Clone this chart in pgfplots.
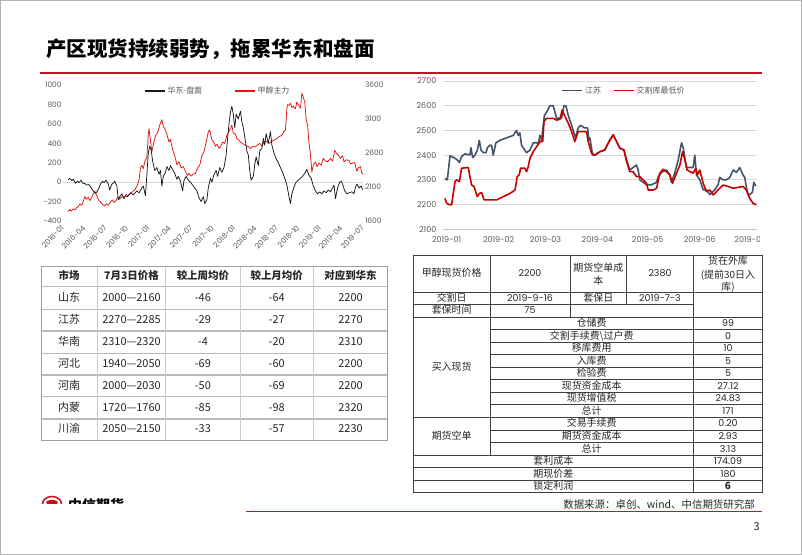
\documentclass[border=0pt]{standalone}
\usepackage{fontspec}
\usepackage{pgfplots}
\pgfplotsset{compat=1.18}
\setmainfont{Noto Sans CJK SC}
\newfontfamily\numf{Poppins}
\definecolor{tickgray}{RGB}{89,89,89}
\definecolor{gridgray}{RGB}{217,217,217}
\definecolor{titlered}{RGB}{200,16,30}
\definecolor{lred}{RGB}{224,20,20}
\definecolor{rred}{RGB}{200,0,0}
\definecolor{slate}{RGB}{68,84,106}
\definecolor{txt}{RGB}{38,38,38}
\pgfplotsset{/pgf/number format/assume math mode=true,/pgf/number format/1000 sep={}}
\begin{document}
\begin{tikzpicture}[x=1bp,y=1bp]
\path[use as bounding box] (0,0) rectangle (802,555);
\fill[white] (0,0) rectangle (802,555);
\draw[gray!60, line width=1bp] (0.5,0.5) rectangle (801.5,554.5);
% title
\node[anchor=west, inner sep=0pt, font=\bfseries\fontsize{20.6}{24}\selectfont] at (46,506) {产区现货持续弱势，拖累华东和盘面};
\draw[titlered, line width=2.5bp] (40,482) -- (762,482);

% ---------- left chart: red series on right scale ----------
\begin{axis}[
  at={(63.3bp,334bp)}, anchor=south west, scale only axis, width=300bp, height=136bp,
  xmin=0, xmax=42, ymin=1600, ymax=3600,
  hide x axis, axis y line*=right, y axis line style={draw=none},
  ytick={1600,2100,2600,3100,3600}, major tick length=0pt,
  yticklabel style={font=\numf\fontsize{7.5}{9}\selectfont, text=tickgray, inner sep=1.5bp},
  extra y ticks={2171.43}, extra y tick labels={},
  extra y tick style={grid=major, major grid style={draw=gridgray, line width=0.9bp}},
  legend columns=2,
  legend style={draw=none, fill=none, font=\fontsize{8}{9}\selectfont, text=tickgray,
    at={(0.515,0.956)}, anchor=center, inner sep=0pt,
    /tikz/every even column/.append style={column sep=30bp}},
  legend image code/.code={\draw[#1, line width=1.4bp] (0bp,0bp) -- (20bp,0bp);},
]
\addlegendimage{black!90}
\addlegendentry{华东-盘面}
\addplot[lred, line width=0.75bp, line join=round] coordinates {
(0.7,1740) (0.9,1770) (1.1,1745) (1.4,1780) (1.6,1760) (1.9,1800) (2.1,1810) (2.3,1850) (2.6,1830) (2.8,1890)
(3.0,1960) (3.2,1920) (3.5,1950) (3.7,1900) (3.9,1930) (4.2,2000) (4.4,2040) (4.6,1990) (4.8,1940) (5.0,1900)
(5.3,1870) (5.5,1840) (5.8,1820) (6.0,1850) (6.3,1830) (6.6,1880) (6.9,1910) (7.1,1870) (7.4,1900) (7.6,1950)
(7.9,1920) (8.2,1960) (8.5,1940) (8.8,1990) (9.1,1970) (9.4,2010) (9.7,2030) (10.0,2060) (10.3,2110) (10.6,2200)
(10.8,2380) (11.0,2420) (11.2,2370) (11.4,2470) (11.7,2540) (11.9,2870) (12.0,2960) (12.2,2780) (12.4,2620) (12.7,2770)
(12.9,2850) (13.2,2900) (13.5,3010) (13.8,3090) (14.0,2990) (14.2,2960) (14.5,2880) (14.8,2760) (15.0,2800) (15.3,2650)
(15.6,2560) (15.9,2430) (16.2,2470) (16.5,2380) (16.8,2400) (17.1,2330) (17.4,2270) (17.6,2300) (17.9,2260) (18.2,2290)
(18.5,2300) (18.8,2380) (19.1,2420) (19.4,2560) (19.7,2620) (20.0,2760) (20.3,2910) (20.5,2940) (20.8,2790) (21.0,2770)
(21.3,2700) (21.5,2730) (21.8,2670) (22.0,2690) (22.3,2760) (22.6,2740) (22.9,2860) (23.1,2900) (23.4,2960) (23.6,3010)
(23.8,2890) (24.1,2880) (24.3,2810) (24.6,2790) (24.8,2760) (25.1,2740) (25.4,2720) (25.7,2700) (26.0,2690) (26.2,2660)
(26.5,2700) (26.9,2690) (27.2,2720) (27.5,2740) (27.8,2700) (28.1,2760) (28.5,2770) (28.8,2740) (29.2,2770) (29.5,2790)
(29.9,2810) (30.2,2840) (30.6,2860) (30.9,2920) (31.1,2940) (31.3,3250) (31.4,3310) (31.6,3300) (31.8,3330) (32.0,3270)
(32.2,3290) (32.5,3250) (32.7,3350) (32.9,3310) (33.2,3260) (33.4,3480) (33.6,3420) (33.8,3350) (34.0,3100) (34.2,3000)
(34.4,2750) (34.6,2580) (34.8,2320) (35.0,2420) (35.3,2470) (35.5,2400) (35.8,2450) (36.1,2420) (36.4,2520) (36.7,2480)
(37.0,2470) (37.4,2520) (37.7,2480) (38.0,2640) (38.2,2600) (38.5,2570) (38.8,2520) (39.1,2560) (39.3,2470) (39.6,2500)
(40.0,2490) (40.2,2440) (40.5,2450) (40.8,2460) (41.1,2330) (41.3,2380) (41.6,2400) (41.8,2300) (42.0,2290)
};
\addlegendentry{甲醇主力}
\end{axis}

% ---------- left chart: black series on left scale ----------
\begin{axis}[
  at={(63.3bp,334bp)}, anchor=south west, scale only axis, width=300bp, height=136bp,
  xmin=0, xmax=42, ymin=-400, ymax=1000,
  axis y line*=left, axis x line*=bottom, axis line style={draw=none},
  ytick={-400,-200,0,200,400,600,800,1000}, major tick length=0pt,
  yticklabel style={font=\numf\fontsize{7.5}{9}\selectfont, text=tickgray, inner sep=1.5bp},
  xtick={0,3,...,42},
  xticklabels={2016-01,2016-04,2016-07,2016-10,2017-01,2017-04,2017-07,2017-10,2018-01,2018-04,2018-07,2018-10,2019-01,2019-04,2019-07},
  xticklabel style={font=\numf\fontsize{7.5}{9}\selectfont, text=tickgray, rotate=45, anchor=east, inner sep=1bp},
  xticklabel shift=5bp,
]
\addplot[black!90, line width=0.75bp, line join=round] coordinates {
(0.7,22) (0.9,40) (1.2,15) (1.4,30) (1.7,-12) (2.0,10) (2.2,-5) (2.5,20) (2.7,-10) (3.0,-15)
(3.3,-30) (3.6,-25) (3.9,-60) (4.2,-90) (4.5,-115) (4.7,-100) (5.0,-60) (5.2,-20) (5.5,10) (5.7,-5)
(6.0,20) (6.3,-20) (6.5,-80) (6.8,-20) (7.0,-10) (7.2,10) (7.5,-40) (7.7,-180) (7.9,-150) (8.2,-120)
(8.5,-170) (8.7,-140) (9.0,-150) (9.4,-110) (9.8,-130) (10.3,-90) (10.6,-110) (11.0,-60) (11.2,-40) (11.5,-140)
(11.7,80) (11.9,300) (12.1,370) (12.3,330) (12.5,220) (12.8,120) (13.1,150) (13.4,80) (13.6,120) (13.8,-40)
(14.0,60) (14.3,100) (14.5,160) (14.8,120) (15.0,170) (15.3,130) (15.6,90) (15.9,30) (16.1,60) (16.4,10)
(16.7,-90) (16.9,20) (17.2,60) (17.5,20) (17.8,0) (18.1,-30) (18.4,-60) (18.7,-90) (19.0,-160) (19.3,-200)
(19.6,-150) (19.8,-220) (20.1,-180) (20.3,-60) (20.6,40) (20.8,0) (21.1,80) (21.4,120) (21.6,60) (21.9,150)
(22.2,100) (22.5,150) (22.8,280) (23.0,450) (23.2,600) (23.4,720) (23.6,780) (23.8,700) (24.0,560) (24.2,700)
(24.5,650) (24.8,730) (25.0,620) (25.2,560) (25.5,420) (25.7,320) (25.9,280) (26.1,120) (26.3,20) (26.6,60)
(26.8,180) (27.0,260) (27.3,170) (27.5,320) (27.8,350) (28.0,450) (28.2,380) (28.4,500) (28.7,400) (29.0,520)
(29.2,380) (29.5,300) (29.8,240) (30.1,200) (30.4,150) (30.7,100) (31.0,40) (31.3,-30) (31.6,-150) (31.8,-220)
(32.0,-120) (32.3,-50) (32.6,0) (32.9,20) (33.2,40) (33.5,60) (33.8,90) (34.1,130) (34.4,70) (34.7,40)
(35.0,-40) (35.3,-90) (35.6,-120) (35.9,-100) (36.2,-120) (36.5,-90) (36.8,-110) (37.1,-80) (37.4,-100) (37.7,-60)
(37.9,-30) (38.1,-170) (38.4,-60) (38.7,0) (38.9,10) (39.1,-20) (39.4,-90) (39.7,-120) (40.0,-110) (40.4,-100)
(40.7,-120) (40.9,-50) (41.1,-20) (41.4,-60) (41.7,-40) (41.9,-80)
};
\end{axis}

% ---------- right chart ----------
\begin{axis}[
  at={(443.3bp,325.7bp)}, anchor=south west, scale only axis, width=313.3bp, height=148.3bp,
  xmin=-2, xmax=185, ymin=2100, ymax=2700,
  axis y line*=left, y axis line style={draw=none},
  axis x line*=bottom, x axis line style={draw=gray!45, line width=0.9bp, -},
  ytick={2100,2200,...,2700}, ymajorgrids, major grid style={draw=gridgray, line width=0.9bp},
  major tick length=0pt,
  yticklabel style={font=\numf\fontsize{8}{9}\selectfont, text=tickgray, xshift=-3.5bp},
  xtick={0,31,59,90,120,151,181},
  xticklabels={2019-01,2019-02,2019-03,2019-04,2019-05,2019-06,2019-07},
  xticklabel style={font=\numf\fontsize{8}{9}\selectfont, text=tickgray, yshift=-4bp},
  legend columns=2,
  legend style={draw=none, fill=none, font=\fontsize{8}{9}\selectfont, text=tickgray,
    at={(0.577,0.935)}, anchor=center, inner sep=0pt,
    /tikz/every even column/.append style={column sep=10bp}},
  legend image code/.code={\draw[#1] (0bp,0bp) -- (20bp,0bp);},
]
\addplot[slate, line width=1.6bp, line join=round] coordinates {
(-1,2306) (0.4,2300) (2,2397) (4,2391) (6,2383) (7.6,2370) (8.9,2394) (10.9,2405) (13.9,2401) (14.5,2430)
(15.5,2390) (16.9,2400) (18.3,2420) (19.5,2460) (20.5,2420) (21.9,2410) (23.5,2410) (24.3,2430) (25.8,2440) (26.8,2440)
(27.8,2400) (29.4,2450) (31.8,2460) (35.8,2470) (39.8,2480) (41.7,2500) (42.7,2480) (43.7,2490) (44.7,2440) (46.7,2420)
(47.7,2410) (49.7,2420) (51.7,2450) (53.7,2450) (54.7,2445) (55.7,2480) (56.7,2460) (58.3,2560) (60.2,2580) (61.6,2600)
(63.6,2600) (65.6,2550) (68.6,2550) (70,2600) (71.2,2600) (72.6,2560) (75.1,2510) (76.9,2470) (78.5,2510) (79.9,2520)
(82.5,2510) (84.1,2510) (84.9,2460) (85.5,2470) (87.1,2400) (88.5,2400) (91.5,2414) (94.4,2421) (97.4,2461) (99.4,2482)
(101.4,2455) (103.4,2428) (105.8,2421) (107.4,2380) (109.3,2340) (111.3,2350) (113.3,2360) (114.3,2340) (115.3,2300) (117.3,2290)
(119.3,2280) (122.3,2280) (125.3,2290) (126.2,2310) (128.2,2330) (131.2,2340) (133.2,2320) (134.2,2290) (136.2,2330) (138.2,2380)
(140.2,2450) (141.2,2430) (143.1,2350) (145.1,2350) (147.1,2350) (148.1,2400) (149.1,2320) (151.1,2300) (153.1,2260) (155.1,2260)
(157.1,2240) (160,2260) (162,2280) (163,2310) (165,2300) (167,2300) (169,2310) (171,2340) (173,2330) (174.9,2350)
(176.9,2320) (177.9,2310) (178.9,2270) (179.9,2240) (180.9,2240) (182.5,2250) (183.3,2290) (184.5,2275)
};
\addlegendentry{江苏}
\addplot[rred, line width=1.6bp, line join=round] coordinates {
(-1,2225) (0,2205) (2,2199) (3,2200) (5,2293) (6,2300) (7.6,2293) (8.9,2347) (12.9,2350) (13.9,2313)
(14.9,2279) (16.3,2273) (18.3,2232) (19.5,2245) (20.9,2248) (22.3,2219) (27.8,2219) (29.8,2219) (33.8,2232) (37.8,2245)
(40.8,2259) (42.1,2313) (43.3,2320) (44.1,2347) (46.7,2347) (47.7,2333) (48.7,2354) (49.7,2387) (51.7,2414) (53.7,2434)
(55.7,2455) (57.3,2455) (58.1,2536) (59.6,2549) (63.6,2549) (65.6,2542) (67.6,2545) (69,2583) (70.6,2556) (72.6,2529)
(74.6,2495) (76.5,2455) (78.5,2495) (83.5,2495) (84.5,2455) (86.5,2407) (88.5,2400) (91.5,2414) (94.4,2421) (97.4,2461)
(99.4,2482) (101.4,2455) (103.4,2428) (105.8,2421) (107.4,2374) (109.3,2333) (111.3,2333) (113.3,2313) (115.3,2313) (117.3,2300)
(119.3,2286) (120.3,2259) (123.3,2259) (125.3,2266) (127.2,2327) (129.2,2343) (131.2,2333) (133.2,2320) (134.8,2286) (137.2,2327)
(139.2,2360) (140.8,2414) (142.2,2381) (143.5,2340) (147.1,2327) (148.7,2347) (149.7,2320) (151.1,2340) (153.1,2286) (155.1,2252)
(157.1,2259) (159.1,2239) (161,2252) (163,2266) (165,2279) (168,2273) (171,2266) (176.9,2273) (178.9,2259) (180.9,2225)
(182.9,2205) (184.9,2199)
};
\addlegendentry{交割库最低价}
\end{axis}
\fill[white] (760,300) rectangle (800.5,322);

% ---------- left table ----------
\draw[gray!55, line width=1.3bp] (41,268.3) -- (387.7,268.3) (41,245.7) -- (387.7,245.7) (41,224) -- (387.7,224)
  (41,201.7) -- (387.7,201.7) (41,180) -- (387.7,180) (41,158.3) -- (387.7,158.3) (41,136) -- (387.7,136);
\draw[gray!40, line width=1bp] (97.3,114.7) -- (97.3,289) (165.7,114.7) -- (165.7,289) (240,114.7) -- (240,289) (313.3,114.7) -- (313.3,289);
\draw[gray!75, line width=0.9bp] (41,114.7) rectangle (387.7,289);
\begin{scope}[every node/.style={inner sep=0pt, text=txt, text height=0.8em, text depth=0.15em, font=\fontsize{11}{13}\selectfont}]
\begin{scope}[every node/.append style={font=\bfseries\fontsize{10.5}{12}\selectfont}]
\node at (69.2,278.7) {市场};
\node at (131.5,278.7) {7月3日价格};
\node at (202.9,278.7) {较上周均价};
\node at (276.7,278.7) {较上月均价};
\node at (350.5,278.7) {对应到华东};
\end{scope}
\foreach \yy/\a/\b/\c/\d/\e in {257/山东/2000—2160/-46/-64/2200, 234.9/江苏/2270—2285/-29/-27/2270,
  212.9/华南/2310—2320/-4/-20/2310, 190.9/河北/1940—2050/-69/-60/2200, 169/河南/2000—2030/-50/-69/2200,
  147.2/内蒙/1720—1760/-85/-98/2320, 125.4/川渝/2050—2150/-33/-57/2230}{
  \node at (69.2,\yy) {\a};
  \node at (131.5,\yy) {\b};
  \node at (202.9,\yy) {\c};
  \node at (276.7,\yy) {\d};
  \node at (350.5,\yy) {\e};
}
\end{scope}

% ---------- right table ----------
\begin{scope}[line width=0.7bp, draw=black!75]
\draw (413.3,62.3) rectangle (762.7,300);
\draw (413.3,263) -- (762.7,263);
\draw (413.3,251) -- (693.3,251);
\draw (413.3,238) -- (762.7,238);
\foreach \yy in {225.45,212.9,200.35,187.8,175.25,162.7,150.15,125.05,112.5} {\draw (490,\yy) -- (762.7,\yy);}
\foreach \yy in {137.6,99.95,87.4,74.85} {\draw (413.3,\yy) -- (762.7,\yy);}
\draw (490,300) -- (490,99.95);
\draw (570,300) -- (570,238);
\draw (626.7,300) -- (626.7,251);
\draw (693.3,300) -- (693.3,62.3);
\end{scope}
\begin{scope}[every node/.style={inner sep=0pt, text=txt, text height=0.8em, text depth=0.15em, font=\fontsize{10}{12}\selectfont},
  num/.style={font=\numf\fontsize{9.5}{11}\selectfont}]
\node at (451.7,281.5) {甲醇现货价格};
\node[num] at (530,281.5) {2200};
\node at (598.3,286.7) {期货空单成};
\node at (598.3,273.3) {本};
\node[num] at (660,281.5) {2380};
\node at (728,293.3) {货在外库};
\node at (728,280) {(提前30日入};
\node at (728,267.7) {库)};
\node at (451.7,257) {交割日};
\node[num] at (530,257) {2019-9-16};
\node at (598.3,257) {套保日};
\node[num] at (660,257) {2019-7-3};
\node at (451.7,244.5) {套保时间};
\node[num] at (530,244.5) {75};
\node at (451.7,187.8) {买入现货};
\node at (451.7,118.8) {期货空单};
\foreach \yy/\l/\v in {231.7/仓储费/99, 219.2/{交割手续费\textbackslash{}过户费}/0, 206.6/移库费用/10, 194.1/入库费/5,
  181.5/检验费/5, 169.0/现货资金成本/27.12, 156.4/现货增值税/24.83, 143.9/总计/171, 131.3/交易手续费/0.20,
  118.8/期货资金成本/2.93, 106.2/总计/3.13}{
  \node at (591.7,\yy) {\l};
  \node[num] at (728,\yy) {\v};
}
\node at (553.3,93.7) {套利成本};
\node[num] at (728,93.7) {174.09};
\node at (553.3,81.1) {期现价差};
\node[num] at (728,81.1) {180};
\node at (553.3,68.6) {锁定利润};
\node[font=\bfseries\fontsize{10}{12}\selectfont] at (728,68.6) {6};
\end{scope}

% ---------- footer ----------
\node[anchor=east, inner sep=0pt, text=txt, font=\fontsize{10.5}{12}\selectfont] at (755,50) {数据来源：卓创、wind、中信期货研究部};
\draw[titlered, line width=1.2bp] (246,43.3) -- (762,43.3);
\node[inner sep=0pt, text=txt, font=\fontsize{11}{13}\selectfont] at (756.7,28.3) {3};
\begin{scope}
\clip (38,51.5) rectangle (130,62);
\draw[titlered, line width=1.5bp] (52,51) ellipse (9.5 and 7.5);
\fill[titlered] (52,52.5) ellipse (6 and 2.5);
\node[anchor=base west, inner sep=0pt, font=\bfseries\fontsize{14}{16}\selectfont] at (68,44.7) {中信期货};
\end{scope}
\end{tikzpicture}
\end{document}
